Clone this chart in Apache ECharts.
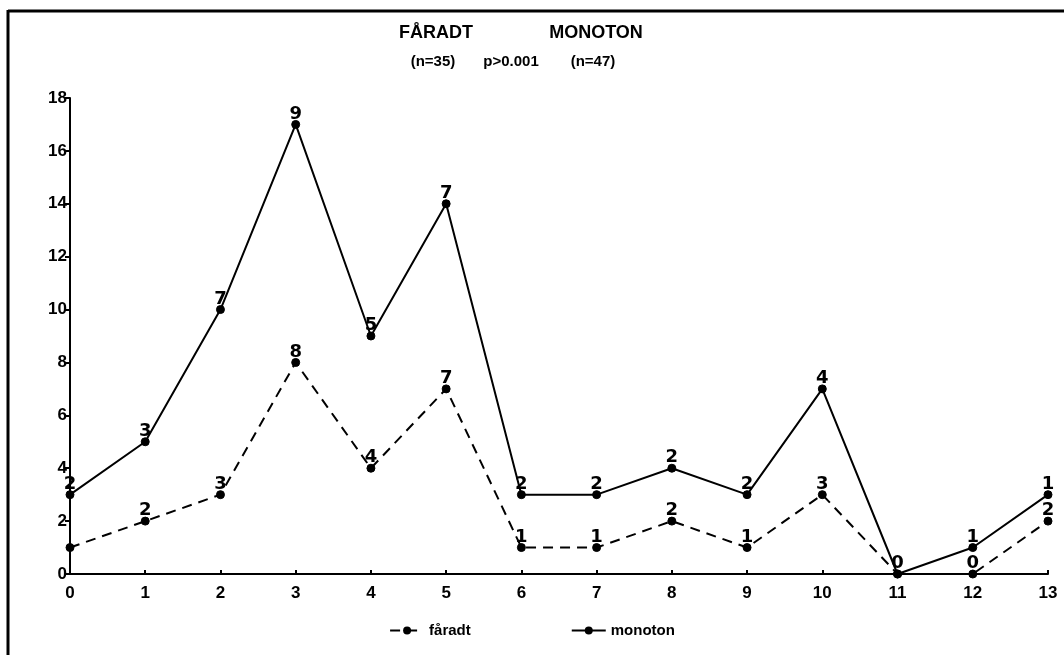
<!DOCTYPE html>
<html><head><meta charset="utf-8">
<script src="https://cdn.jsdelivr.net/npm/echarts@6/dist/echarts.min.js"></script>
<style>html,body{margin:0;padding:0;background:#fff}#c{width:1064px;height:655px}</style>
</head><body><div id="c"></div>
<script>
var categories = ['0','1','2','3','4','5','6','7','8','9','10','11','12','13'];
var yTicks = [0,2,4,6,8,10,12,14,16,18];
var faradtValues = [1,2,3,8,4,7,1,1,2,1,3,0,0,2];
var faradtLabels = ['',2,3,8,4,7,1,1,2,1,3,'',0,2];
var monotonValues = [3,5,10,17,9,14,3,3,4,3,7,0,1,3];
var monotonLabels = [2,3,7,9,5,7,2,2,2,2,4,0,1,1];

var chart = echarts.init(document.getElementById('c'));
var font = '"Liberation Sans", Arial, sans-serif';
function mk(vals, labels){
  return vals.map(function(v,i){ return {value:[i,v], lab: labels[i]}; });
}
var tStyle = {fontFamily:font,fontWeight:'bold',fontSize:18,color:'#000'};
var sStyle = {fontFamily:font,fontWeight:'bold',fontSize:15,color:'#000'};
chart.setOption({
  animation:false,
  backgroundColor:'#fff',
  title:[
    {text:'FÅRADT', left:431, textAlign:'center', top:19, textStyle:tStyle},
    {text:'MONOTON', left:591, textAlign:'center', top:19, textStyle:tStyle},
    {text:'(n=35)', left:428, textAlign:'center', top:49, textStyle:sStyle},
    {text:'p>0.001', left:506, textAlign:'center', top:49, textStyle:sStyle},
    {text:'(n=47)', left:588, textAlign:'center', top:49, textStyle:sStyle}
  ],
  legend:{
    bottom:12, left:'center', itemGap:100, itemWidth:34, itemHeight:10,
    textStyle:{fontFamily:font,fontWeight:'bold',fontSize:15,color:'#000'},
    data:['fåradt','monoton']
  },
  grid:{left:70,right:16,top:98,bottom:81},
  xAxis:{
    type:'value', min:0, max:13, interval:1,
    axisLine:{lineStyle:{color:'#000',width:2}},
    axisTick:{inside:true,length:4,lineStyle:{color:'#000',width:2}},
    axisLabel:{fontFamily:font,fontWeight:'bold',fontSize:17,color:'#000',margin:11,
      formatter:function(v){return categories[v]!==undefined?categories[v]:'';}},
    splitLine:{show:false}
  },
  yAxis:{
    type:'value', min:0, max:18, interval:2,
    axisLine:{show:true,lineStyle:{color:'#000',width:2}},
    axisTick:{show:true,length:5,lineStyle:{color:'#000',width:2}},
    axisLabel:{fontFamily:font,fontWeight:'bold',fontSize:17,color:'#000',margin:3,
      formatter:function(v){return yTicks.indexOf(v)>=0?String(v):'';}},
    splitLine:{show:false}
  },
  series:[
    {name:'fåradt', type:'line', data:mk(faradtValues,faradtLabels),
     symbol:'circle', symbolSize:8, showAllSymbol:true,
     itemStyle:{color:'#000',borderColor:'#000'},
     lineStyle:{color:'#000',width:2,type:[10,7]},
     label:{show:true,position:'top',distance:-3,fontFamily:'"DejaVu Sans", sans-serif',fontWeight:'bold',fontSize:18,color:'#000',
       formatter:function(p){return p.data.lab===''?'':String(p.data.lab);}},
     z:3},
    {name:'monoton', type:'line', data:mk(monotonValues,monotonLabels),
     symbol:'circle', symbolSize:8, showAllSymbol:true,
     itemStyle:{color:'#000',borderColor:'#000'},
     lineStyle:{color:'#000',width:2,type:'solid'},
     label:{show:true,position:'top',distance:-3,fontFamily:'"DejaVu Sans", sans-serif',fontWeight:'bold',fontSize:18,color:'#000',
       formatter:function(p){return String(p.data.lab);}},
     z:3}
  ],
  graphic:[
    {type:'line',shape:{x1:8,y1:11,x2:1064,y2:11},style:{stroke:'#000',lineWidth:3}},
    {type:'line',shape:{x1:8,y1:10,x2:8,y2:655},style:{stroke:'#000',lineWidth:3}}
  ]
});
</script></body></html>
